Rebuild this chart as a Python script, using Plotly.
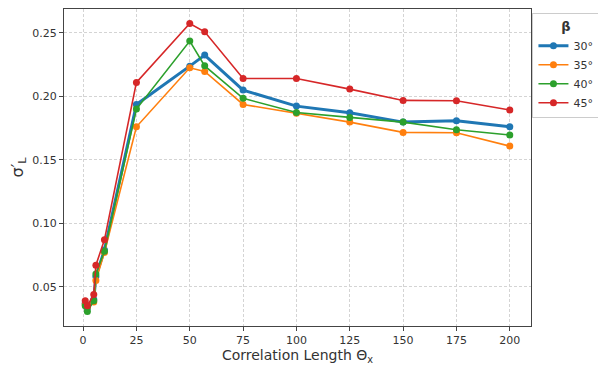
import plotly.graph_objects as go

theta_x = [1, 2, 5, 6, 10, 25, 50, 57, 75, 100, 125, 150, 175, 200]
beta_labels = ["30°", "35°", "40°", "45°"]
sigma_30 = [0.037, 0.033, 0.040, 0.058, 0.079, 0.1936, 0.2238, 0.2325, 0.2049, 0.1923, 0.1870, 0.1797, 0.1807, 0.1760]
sigma_35 = [0.036, 0.034, 0.038, 0.055, 0.077, 0.1760, 0.2225, 0.2196, 0.1936, 0.1866, 0.1797, 0.1716, 0.1713, 0.1608]
sigma_40 = [0.035, 0.0305, 0.039, 0.060, 0.078, 0.1900, 0.2435, 0.2240, 0.1984, 0.1873, 0.1834, 0.1797, 0.1737, 0.1695]
sigma_45 = [0.039, 0.035, 0.044, 0.067, 0.087, 0.2110, 0.2574, 0.2508, 0.2141, 0.2141, 0.2057, 0.1968, 0.1965, 0.1892]

series = [sigma_30, sigma_35, sigma_40, sigma_45]
colors = ["#1f77b4", "#ff7f0e", "#2ca02c", "#d62728"]
widths = [3, 1.6, 1.6, 1.6]

fig = go.Figure()
for lab, ys, c, w in zip(beta_labels, series, colors, widths):
    fig.add_trace(go.Scatter(
        x=theta_x, y=ys, name=lab, mode="lines+markers",
        line=dict(color=c, width=w),
        marker=dict(color=c, size=7),
    ))

font_family = "DejaVu Sans"
axis_common = dict(
    showline=True, linecolor="#444", linewidth=1, mirror=True,
    showgrid=True, gridcolor="#d4d4d4", griddash="3px,2px", gridwidth=1,
    ticks="outside", ticklen=4, tickcolor="#444",
    tickfont=dict(family=font_family, size=11, color="#333"),
    zeroline=False, automargin=False,
)

# page has an 8px body margin, so the figure is sized to fill the window from there
fig.update_layout(
    width=598, height=357,
    margin=dict(l=56, r=75, t=1, b=39),
    paper_bgcolor="white", plot_bgcolor="white",
    font=dict(family=font_family, color="#333"),
    xaxis=dict(
        range=[-8.95, 209.95], tickvals=[0, 25, 50, 75, 100, 125, 150, 175, 200],
        title=dict(text="Correlation Length Θ<sub>x</sub>", font=dict(size=14, family=font_family, color="#333"), standoff=2),
        **axis_common,
    ),
    yaxis=dict(
        range=[0.0191, 0.2688], tickvals=[0.05, 0.10, 0.15, 0.20, 0.25], tickformat=".2f",
        title=dict(text="σ′<sub>L</sub>", font=dict(size=16, family=font_family, color="#333"), standoff=8),
        **axis_common,
    ),
    legend=dict(
        xref="container", yref="container",
        x=0.877, xanchor="left", y=0.985, yanchor="top",
        bordercolor="#cccccc", borderwidth=1, bgcolor="white",
        font=dict(family=font_family, size=11, color="#333"),
        title=dict(text="<b>β</b>", side="top center", font=dict(size=13, family=font_family)),
        itemwidth=30, tracegroupgap=0,
    ),
)

fig.write_html("out.html")
